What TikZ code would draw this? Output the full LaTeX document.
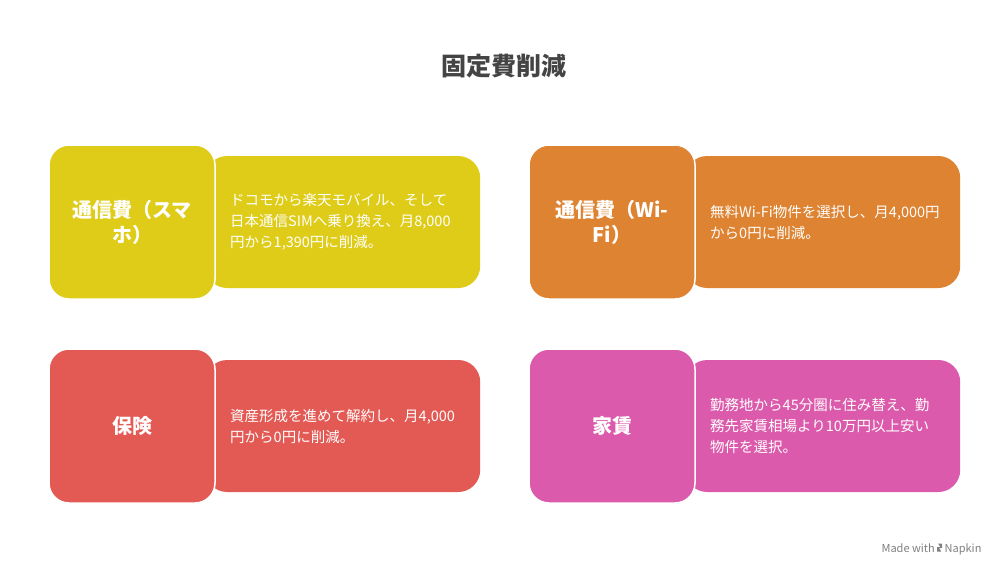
\documentclass[tikz,border=0pt]{standalone}
\usepackage{fontspec}
\setmainfont{Noto Sans CJK JP}
\usetikzlibrary{positioning}
\definecolor{cYellow}{HTML}{DECC18}
\definecolor{cOrange}{HTML}{DE8331}
\definecolor{cRed}{HTML}{E35954}
\definecolor{cPink}{HTML}{DB5AAB}
\definecolor{cTitle}{HTML}{444444}
\tikzset{
    headbox/.style={draw=white, line width=1.5pt, rounded corners=20pt, minimum width=166pt, minimum height=154pt, text=white, align=center, font=\bfseries\fontsize{20}{25}\selectfont},
    bodybox/.style={rounded corners=22pt, minimum width=275pt, minimum height=132pt, text=white, align=left, text width=245pt, font=\fontsize{14.5}{21}\selectfont, inner xsep=0pt},
}
\begin{document}
\begin{tikzpicture}[x=1pt,y=-1pt]
\useasboundingbox[fill=white] (0,0) rectangle (1008,576);

\node[font=\bfseries\fontsize{25}{30}\selectfont, text=cTitle] (title) at (504,66) {固定費削減};

% ============================
\node[bodybox, fill=cYellow, anchor=west] (phoneB) at (205,222) {\hspace*{10pt}ドコモから楽天モバイル、そして\\\hspace*{10pt}日本通信SIMへ乗り換え、月8,000\\\hspace*{10pt}円から1,390円に削減。};
\node[headbox, fill=cYellow] (phoneH) at (132,222) {通信費（スマ\\ホ）};

\node[bodybox, fill=cOrange, anchor=west] (wifiB) at (685,222) {\hspace*{10pt}無料Wi-Fi物件を選択し、月4,000円\\\hspace*{10pt}から0円に削減。};
\node[headbox, fill=cOrange] (wifiH) at (612,222) {通信費（Wi-\\Fi）};

% ============================
\node[bodybox, fill=cRed, anchor=west] (insB) at (205,426) {\hspace*{10pt}資産形成を進めて解約し、月4,000\\\hspace*{10pt}円から0円に削減。};
\node[headbox, fill=cRed] (insH) at (132,426) {保険};

\node[bodybox, fill=cPink, anchor=west] (rentB) at (685,426) {\hspace*{10pt}勤務地から45分圏に住み替え、勤\\\hspace*{10pt}務先家賃相場より10万円以上安い\\\hspace*{10pt}物件を選択。};
\node[headbox, fill=cPink] (rentH) at (612,426) {家賃};

\node[text=gray, font=\fontsize{11}{13}\selectfont, anchor=east] (credit) at (985,549) {Made with \tikz[x=1pt,y=1pt,baseline=0pt]\fill[gray] (0,0.6) -- (4,0.6) -- (1.8,4) -- (5,4) -- (5,8.4) -- (1,8.4) -- (3.2,5) -- (0,5) -- cycle; Napkin};
\end{tikzpicture}
\end{document}
